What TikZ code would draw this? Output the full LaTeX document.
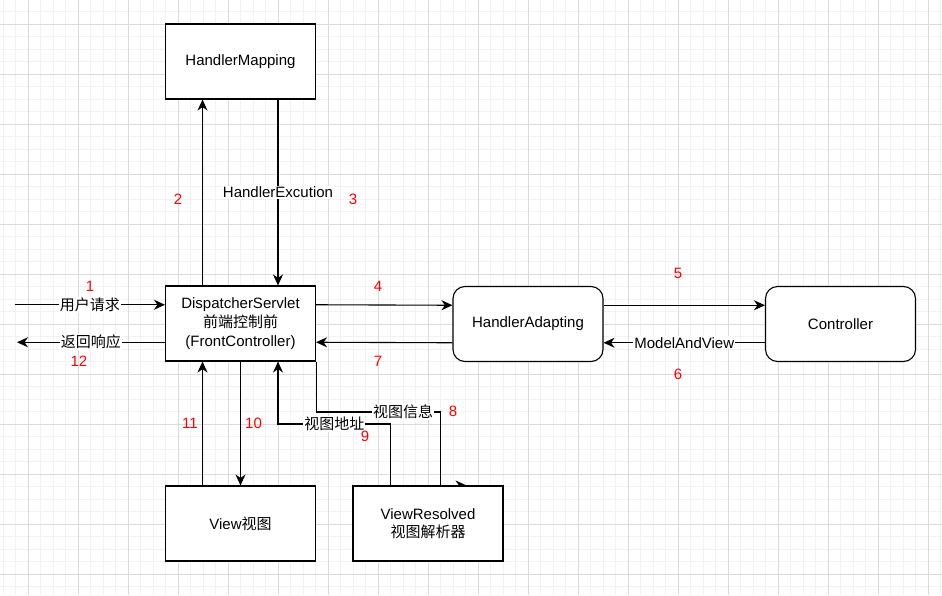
\documentclass[tikz,border=0pt]{standalone}
\usepackage{fontspec}
\setmainfont{Liberation Sans}
\newfontfamily\cjk{Noto Sans CJK SC}
\newcommand{\zh}[1]{{\cjk #1}}
\newcommand{\fs}{\fontsize{15pt}{19pt}\selectfont}
\usetikzlibrary{arrows.meta, backgrounds}

\tikzset{
  box/.style={draw, fill=white, line width=1.1pt, minimum width=150pt, minimum height=75pt, align=center, font=\fs},
  rbox/.style={box, rounded corners=12pt},
  conn/.style={line width=1.1pt, -{Stealth[length=11pt,width=10pt,inset=3.5pt]}},
  lbl/.style={fill=white, inner sep=1pt, font=\fs},
  num/.style={text=red, font=\fs},
  gridmajor/.style={draw=black!14, line width=0.8pt},
  gridminor/.style={draw=black!5, line width=0.8pt},
}

\begin{document}
\begin{tikzpicture}[x=1pt, y=-1pt]
        \useasboundingbox (0,0) rectangle (942,595);
        % boxes
        \node[box] (hm) at (240.5,61.5) {HandlerMapping};
        \node[box] (ds) at (240.5,323.5) {DispatcherServlet\\\zh{前端控制前}\\(FrontController)};
        \node[rbox] (ha) at (528,324) {HandlerAdapting};
        \node[rbox] (ctrl) at (840.5,324) {Controller};
        \node[box] (view) at (240.5,523.5) {View\zh{视图}};
        \node[box] (vr) at (428,523.5) {ViewResolved\\[-1pt]\zh{视图解析器}};
        \coordinate (in) at (15,304.75);
        \coordinate (out) at (17,342.25);
        \coordinate (v8) at (440.5,412);
        \coordinate (v9) at (278,424);
        % step numbers
        \node[num] (n1) at (90,286.5) {1};
        \node[num] (n2) at (178,199) {2};
        \node[num] (n3) at (353,199) {3};
        \node[num] (n4) at (378,286.5) {4};
        \node[num] (n5) at (678,273.5) {5};
        \node[num] (n6) at (678,374) {6};
        \node[num] (n7) at (378,361) {7};
        \node[num] (n8) at (453,411.5) {8};
        \node[num] (n9) at (365,436.5) {9};
        \node[num] (n10) at (253.5,423.5) {10};
        \node[num] (n11) at (190,423.5) {11};
        \node[num] (n12) at (79,361.5) {12};
        \begin{scope}[on background layer]
          \fill[white] (0,0) rectangle (942,595);
          \foreach \x in {3,15.5,...,942} \draw[gridminor] (\x,0) -- (\x,595);
          \foreach \y in {-1,11.5,...,595} \draw[gridminor] (0,\y) -- (942,\y);
          \foreach \x in {28,78,...,942} \draw[gridmajor] (\x,0) -- (\x,595);
          \foreach \y in {24,74,...,595} \draw[gridmajor] (0,\y) -- (942,\y);
          % connectors
          \draw[conn] (in) -- (in -| ds.west) node[midway, lbl] {\zh{用户请求}};
          \draw[conn] (ds.west |- out) -- (out) node[midway, lbl] {\zh{返回响应}};
          \draw[conn] ([xshift=-38pt]ds.north) -- ([xshift=-38pt]hm.south);
          \draw[conn] ([xshift=37.5pt]hm.south) -- ([xshift=37.5pt]ds.north) node[midway, lbl] {HandlerExcution};
          \draw[conn] ([yshift=18.75pt]ds.east) -- ([yshift=18.75pt]ha.west);
          \draw[conn] ([yshift=-18.75pt]ha.west) -- ([yshift=-18.75pt]ds.east);
          \draw[conn] ([yshift=18.75pt]ha.east) -- ([yshift=18.75pt]ctrl.west);
          \draw[conn] ([yshift=-18.75pt]ctrl.west) -- ([yshift=-18.75pt]ha.east) node[midway, lbl] {ModelAndView};
          \draw[conn] ([xshift=-38pt]view.north) -- ([xshift=-38pt]ds.south);
          \draw[conn] (ds.south) -- (view.north);
          \draw[conn] (ds.south east) -- (ds.south east |- v8) -- (v8) node[pos=0.7, lbl] {\zh{视图信息}} -- (v8 |- vr.north) -- ++(26,0);
          \draw[conn] ([xshift=-37.5pt]vr.north) |- (v9) node[pos=0.75, lbl] {\zh{视图地址}} -- ([xshift=37.5pt]ds.south);
        \end{scope}
      \end{tikzpicture}
\end{document}
